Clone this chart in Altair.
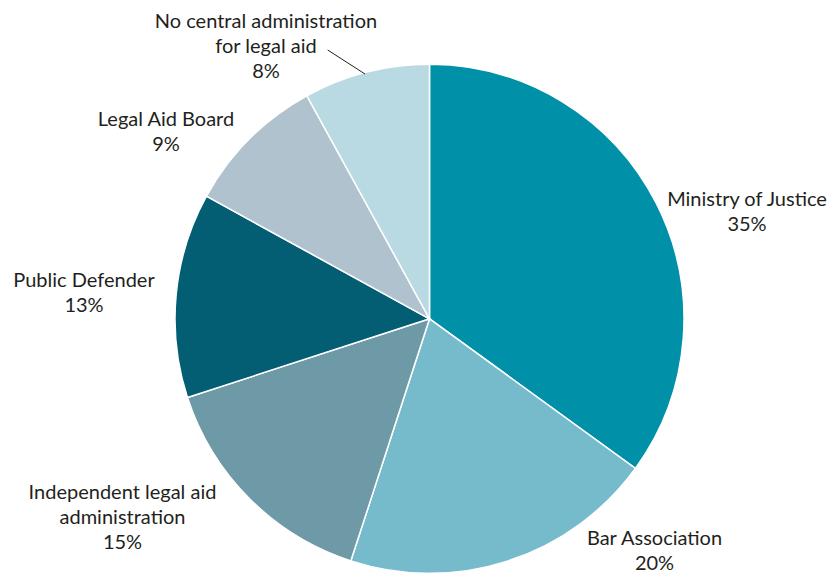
import altair as alt
import pandas as pd

categories = ["Ministry of Justice", "Bar Association", "Independent legal aid administration",
              "Public Defender", "Legal Aid Board", "No central administration for legal aid"]
values = [35, 20, 15, 13, 9, 8]
colors = ["#0090A8", "#75BBCB", "#6E9AA8", "#035E73", "#AFC2CE", "#B9D9E3"]
label_lines = [
    ["Ministry of Justice", "35%"],
    ["Bar Association", "20%"],
    ["Independent legal aid", "administration", "15%"],
    ["Public Defender", "13%"],
    ["Legal Aid Board", "9%"],
    ["No central administration", "for legal aid", "8%"],
]

# layout: label first-line centres (pixels within the chart area)
label_pos = [(739, 192), (646.5, 531), (114.5, 485), (76, 273), (158, 112), (258, 14)]

W, H = 819, 566
CX, CY, R = 421.5, 310.8, 254.5

df = pd.DataFrame({
    "category": categories,
    "value": values,
    "order": list(range(len(categories))),
})

lab = pd.DataFrame({
    "text": label_lines,
    "lx": [p[0] for p in label_pos],
    "ly": [p[1] for p in label_pos],
})

pie = alt.Chart(df).mark_arc(radius=R, stroke="white", strokeWidth=1.5).encode(
    theta=alt.Theta("value:Q", stack=True),
    order=alt.Order("order:Q"),
    color=alt.Color("category:N", scale=alt.Scale(domain=categories, range=colors), legend=None),
    x=alt.value(CX),
    y=alt.value(CY),
)

labels = alt.Chart(lab).mark_text(
    font="Lato", fontSize=20, color="#231F20", align="center", baseline="middle", lineHeight=25
).encode(
    x=alt.X("lx:Q", scale=None),
    y=alt.Y("ly:Q", scale=None),
    text="text",
)

leader = alt.Chart(pd.DataFrame({"a": [0]})).mark_rule(color="#231F20", strokeWidth=1).encode(
    x=alt.value(319.7), y=alt.value(42), x2=alt.value(357), y2=alt.value(66)
)

chart = alt.layer(pie, leader, labels).properties(
    width=W, height=H, autosize=alt.AutoSizeParams(type="none"), padding=0
).configure_view(stroke=None)

chart.save("out.html", embed_options={"renderer": "svg", "actions": False})
